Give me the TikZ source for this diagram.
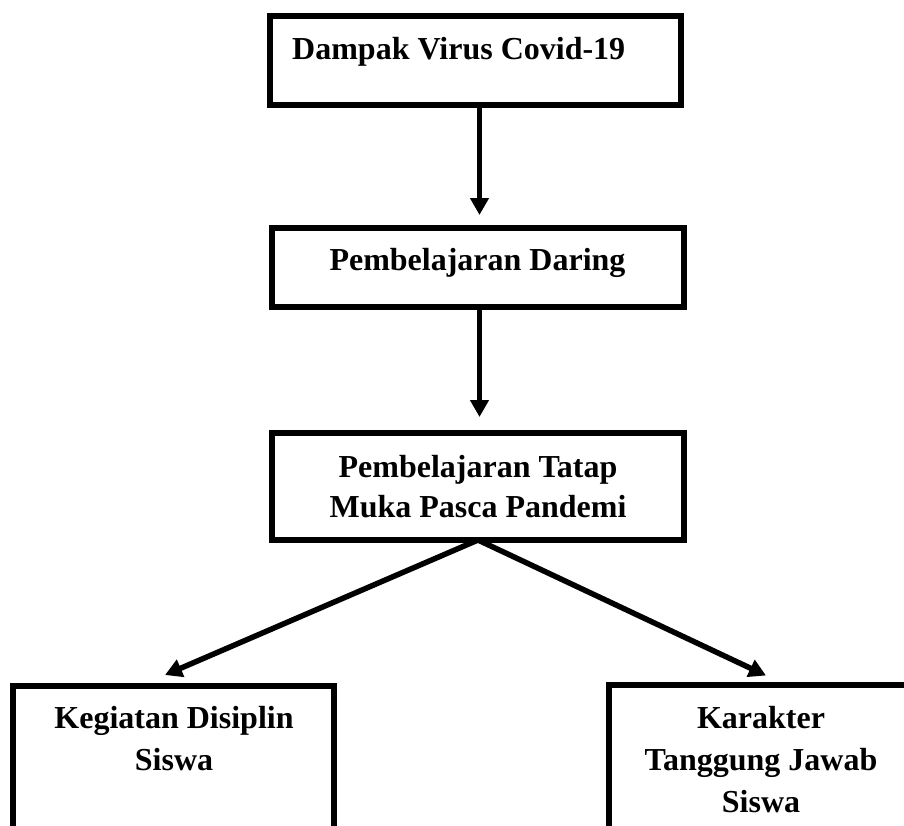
\documentclass[tikz,border=0pt]{standalone}
\usepackage{fontspec}
\setmainfont{Liberation Serif}
\usetikzlibrary{arrows.meta}
\begin{document}
\begin{tikzpicture}[x=1pt,y=-1pt,
  frame/.style={draw=black, line width=6pt, inner sep=0pt, rectangle},
  txt/.style={inner sep=0pt, font=\bfseries\fontsize{32}{40}\selectfont},
  txtm/.style={txt, align=center},
  txtb/.style={inner sep=0pt, align=center, font=\bfseries\fontsize{32}{42}\selectfont},
  arr/.style={line width=5.5pt, -{Triangle[length=17pt,width=18pt]}}]
\useasboundingbox (0,0) rectangle (904,825);
\clip (0,0) rectangle (904,825);
\fill[white] (0,0) rectangle (904,825);
% frames
\node[frame, minimum width=411pt, minimum height=89pt] (b1) at (475.5,60.5) {};
\node[frame, minimum width=412pt, minimum height=79pt] (b2) at (478,267.5) {};
\node[frame, minimum width=412pt, minimum height=107pt] (b3) at (478,486.5) {};
\node[frame, minimum width=321pt, minimum height=180pt] (b4) at (173.5,776) {};
\node[frame, minimum width=304pt, minimum height=180pt] (b5) at (761,775) {};
% texts
\node[txt, anchor=base west] (t1) at (292,59) {Dampak Virus Covid-19};
\node[txt, anchor=base] (t2) at (477.5,270) {Pembelajaran Daring};
\node[txtm, anchor=north] (t3) at (478,451) {\rule{0pt}{26pt}Pembelajaran Tatap\\Muka Pasca Pandemi};
\node[txtb, anchor=north] (t4) at (174,702) {\rule{0pt}{26pt}Kegiatan Disiplin\\Siswa};
\node[txtb, anchor=north] (t5) at (761,702) {\rule{0pt}{26pt}Karakter\\Tanggung Jawab\\Siswa};
% connectors
\draw[arr] ([xshift=4pt]b1.south) -- ([xshift=1.5pt,yshift=10pt]b2.north);
\draw[arr] ([xshift=1.5pt]b2.south) -- ([xshift=1.5pt,yshift=13pt]b3.north);
\draw[arr] ([yshift=3pt]b3.south) -- ([xshift=-8.5pt,yshift=8pt]b4.north);
\draw[arr] ([yshift=3pt]b3.south) -- ([xshift=5pt,yshift=6.5pt]b5.north);
\end{tikzpicture}
\end{document}
